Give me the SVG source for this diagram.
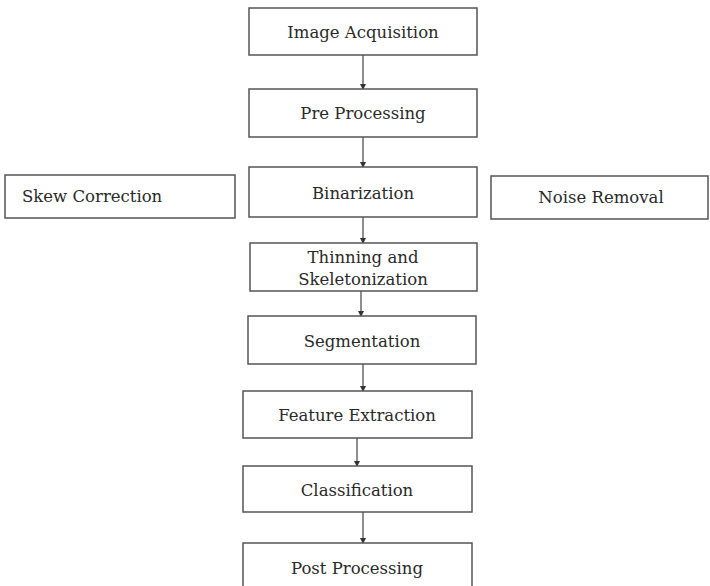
<svg xmlns="http://www.w3.org/2000/svg" width="710" height="586" viewBox="0 0 710 586">
  <defs>
    <marker id="head" markerWidth="6" markerHeight="6" refX="5" refY="3" orient="auto" markerUnits="userSpaceOnUse">
      <path d="M0,0 L6,3 L0,6 Z" fill="#333"/>
    </marker>
    <style>
      .box { fill: #fff; stroke: #555; stroke-width: 1.5; }
      .lbl { font-family: "DejaVu Serif", "Liberation Serif", serif; font-size: 16.5px; fill: #2a2a2a; text-anchor: middle; }
      .edge { stroke: #444; stroke-width: 1.2; fill: none; marker-end: url(#head); }
    </style>
  </defs>
  <rect width="710" height="586" fill="#fff"/>

  <g id="connectors">
    <path class="edge" d="M363,55 V89"/>
    <path class="edge" d="M363,137 V167"/>
    <path class="edge" d="M363,217 V243"/>
    <path class="edge" d="M361,291 V316"/>
    <path class="edge" d="M363,364 V391"/>
    <path class="edge" d="M357,438 V466"/>
    <path class="edge" d="M363,512 V543"/>
  </g>

  <g id="image-acquisition">
    <rect class="box" x="249" y="8" width="228" height="47"/>
    <text class="lbl" x="363" y="38">Image Acquisition</text>
  </g>
  <g id="pre-processing">
    <rect class="box" x="249" y="89" width="228" height="48"/>
    <text class="lbl" x="363" y="119">Pre Processing</text>
  </g>
  <g id="skew-correction">
    <rect class="box" x="5" y="175" width="230" height="43"/>
    <text class="lbl" x="22" y="202" style="text-anchor:start">Skew Correction</text>
  </g>
  <g id="binarization">
    <rect class="box" x="249" y="167" width="228" height="50"/>
    <text class="lbl" x="363" y="199">Binarization</text>
  </g>
  <g id="noise-removal">
    <rect class="box" x="491" y="176" width="217" height="43"/>
    <text class="lbl" x="601" y="203">Noise Removal</text>
  </g>
  <g id="thinning">
    <rect class="box" x="250" y="243" width="227" height="48"/>
    <text class="lbl" x="363" y="263">Thinning and</text>
    <text class="lbl" x="363" y="285">Skeletonization</text>
  </g>
  <g id="segmentation">
    <rect class="box" x="248" y="316" width="228" height="48"/>
    <text class="lbl" x="362" y="347">Segmentation</text>
  </g>
  <g id="feature-extraction">
    <rect class="box" x="243" y="391" width="229" height="47"/>
    <text class="lbl" x="357" y="421">Feature Extraction</text>
  </g>
  <g id="classification">
    <rect class="box" x="243" y="466" width="229" height="46"/>
    <text class="lbl" x="357" y="496">Classification</text>
  </g>
  <g id="post-processing">
    <rect class="box" x="243" y="543" width="229" height="48"/>
    <text class="lbl" x="357" y="574">Post Processing</text>
  </g>
</svg>
